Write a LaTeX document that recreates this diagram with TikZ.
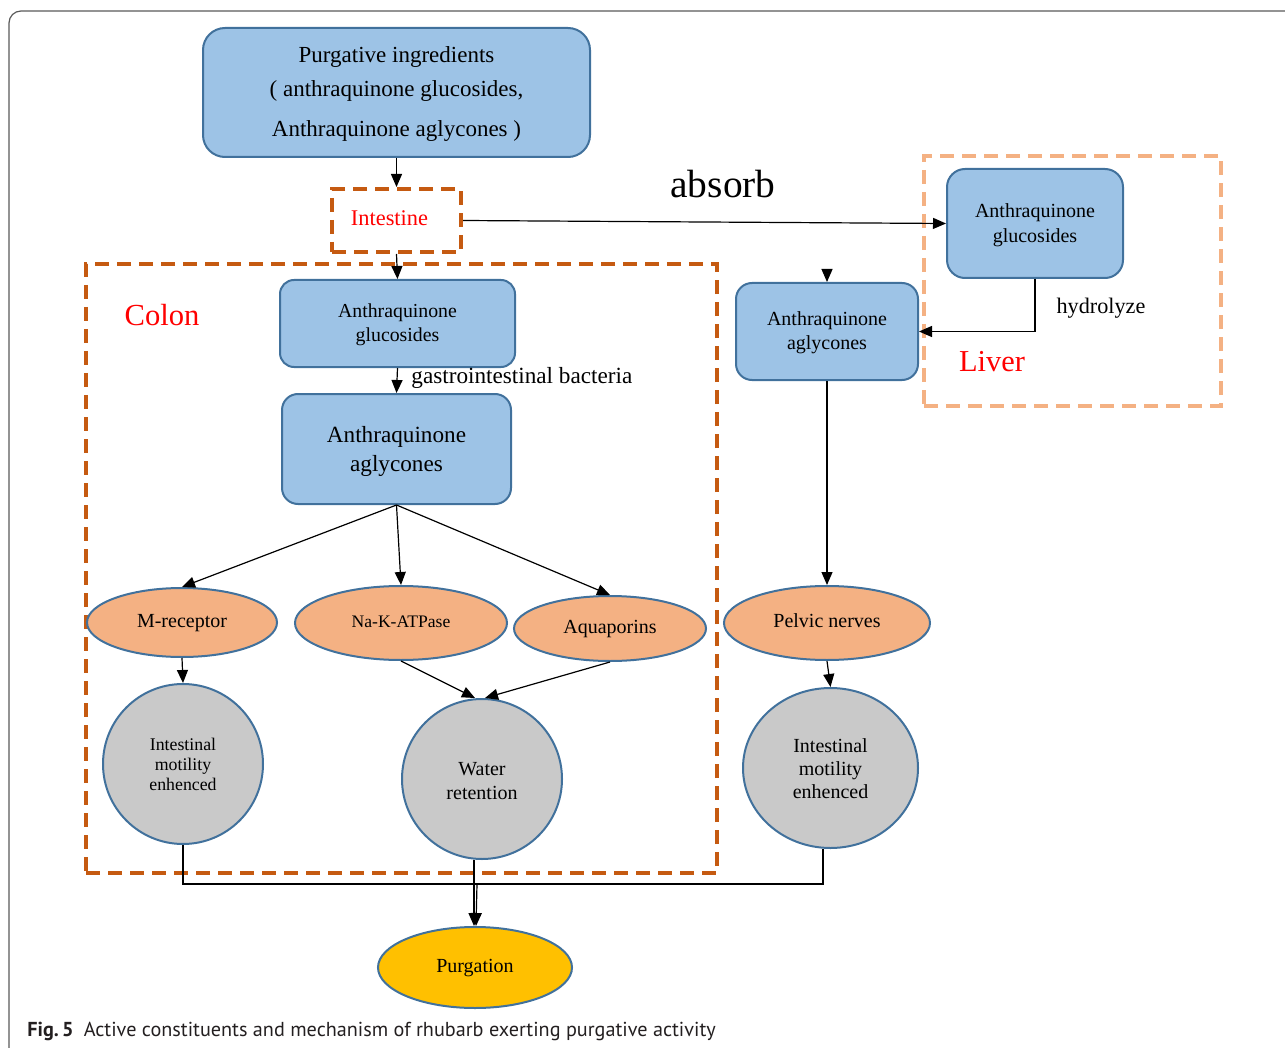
\documentclass[tikz,border=0pt]{standalone}
\usepackage{fontspec}
\setmainfont{Liberation Serif}
\newfontfamily\capfont{PT Sans}
\usetikzlibrary{arrows.meta,shapes.geometric}
\newcommand\myfs[2]{\fontsize{#1}{#2}\selectfont}
\definecolor{boxfill}{HTML}{9DC3E6}
\definecolor{boxline}{HTML}{41719C}
\definecolor{orfill}{HTML}{F4B183}
\definecolor{grfill}{HTML}{C9C9C9}
\definecolor{purfill}{HTML}{FFC000}
\definecolor{colonline}{HTML}{C55A11}
\definecolor{liverline}{HTML}{F4B183}
\definecolor{capcol}{HTML}{231F20}
\tikzset{
  bluebox/.style={draw=boxline, fill=boxfill, line width=1pt, rounded corners=8pt, align=center, inner sep=0pt},
  orell/.style={ellipse, draw=boxline, fill=orfill, line width=1pt, inner sep=0pt, align=center},
  grell/.style={ellipse, draw=boxline, fill=grfill, line width=1pt, inner sep=0pt, align=center},
  purell/.style={ellipse, draw=boxline, fill=purfill, line width=1pt, inner sep=0pt, align=center},
  dashbox/.style={draw=colonline, line width=2pt, dash pattern=on 7pt off 4pt, inner sep=0pt},
  liverbox/.style={draw=liverline, line width=2pt, dash pattern=on 7pt off 4pt, inner sep=0pt},
  conn/.style={line width=0.6pt, draw=black},
  arr/.style={conn, -{Triangle[length=6.5pt,width=5.5pt]}},
  redlbl/.style={text=red, inner sep=0pt},
  lbl/.style={inner sep=0pt}
}
\begin{document}
\begin{tikzpicture}[x=0.5pt,y=-0.5pt]
\useasboundingbox (0,0) rectangle (1285,1048);
% outer frame
\draw[line width=0.6pt, draw=black!65, rounded corners=6pt] (9,11) rectangle (1310,1070);

% dashed region boxes
\node[dashbox, minimum width=315.5pt, minimum height=304.5pt] (colon) at (401.5,568.5) {};
\node[liverbox, minimum width=148.5pt, minimum height=125pt] (liver) at (1072.5,281) {};

% top box
\node[bluebox, rounded corners=11pt, minimum width=193.5pt, minimum height=64.5pt, font=\myfs{11.5pt}{17pt}] (top) at (396.5,92.5)
  {\strut Purgative ingredients\\( anthraquinone glucosides,\\[3pt]Anthraquinone aglycones )\strut};

% intestine
\node[dashbox, minimum width=64.5pt, minimum height=31.5pt, text=red, font=\myfs{11.2pt}{13pt}] (int) at (396.5,220.5) {\strut Intestine\kern7pt};

% colon boxes
\node[bluebox, rounded corners=7pt, minimum width=117.5pt, minimum height=43.5pt, font=\myfs{9.9pt}{12pt}] (cglu) at (397.5,323.5) {\strut Anthraquinone\\glucosides};
\node[bluebox, rounded corners=8pt, minimum width=114.5pt, minimum height=55pt, font=\myfs{11.6pt}{14.5pt}] (cagl) at (396.5,449) {\strut Anthraquinone\\aglycones};

% liver boxes
\node[bluebox, rounded corners=9pt, minimum width=88pt, minimum height=54.5pt, font=\myfs{10pt}{12.5pt}] (lglu) at (1035,223.5) {\strut Anthraquinone\\glucosides};
\node[bluebox, rounded corners=8pt, minimum width=91pt, minimum height=48.5pt, font=\myfs{10pt}{12pt}] (ragl) at (827,331.5) {\strut Anthraquinone\\aglycones};

% ellipses
\node[orell, minimum width=95pt, minimum height=34.5pt, font=\myfs{10pt}{12pt}] (mrec) at (182,622.5) {\strut M-receptor};
\node[orell, minimum width=106pt, minimum height=37pt, font=\myfs{8.8pt}{11pt}] (nak) at (401,623) {\strut Na-K-ATPase};
\node[orell, minimum width=96pt, minimum height=32.5pt, font=\myfs{10pt}{12pt}] (aqua) at (610,628.5) {\strut Aquaporins};
\node[orell, minimum width=103pt, minimum height=37pt, font=\myfs{10pt}{12pt}] (pelv) at (827,623) {\strut Pelvic nerves};

\node[grell, minimum width=80pt, minimum height=80pt, font=\myfs{8.9pt}{10pt}] (lmot) at (183,764) {\strut Intestinal\\motility\\enhenced};
\node[grell, minimum width=80pt, minimum height=80pt, font=\myfs{10pt}{12pt}] (water) at (482,779) {\strut Water\\retention};
\node[grell, minimum width=87.5pt, minimum height=80pt, font=\myfs{10pt}{11.5pt}] (rmot) at (830.5,768) {\strut Intestinal\\motility\\enhenced};

\node[purell, minimum width=97pt, minimum height=40.5pt, font=\myfs{10pt}{12pt}] (purg) at (475,967.5) {\strut Purgation};

% labels
\node[lbl, font=\myfs{19.7pt}{22pt}] (absorb) at (723,184) {absorb};
\node[redlbl, font=\myfs{15.3pt}{18pt}] (colonlbl) at (162,315) {Colon};
\node[redlbl, font=\myfs{15.2pt}{18pt}] (liverlbl) at (992,362) {Liver};
\node[lbl, font=\myfs{11.1pt}{13pt}] (hydro) at (1101,308) {hydrolyze};
\node[lbl, anchor=west, font=\myfs{11.6pt}{13pt}] (gib) at (411,378) {gastrointestinal bacteria};

% connectors
\draw[arr] (top.south) -- (int.north);
\draw[arr] (int.south) -- (cglu.north);
\draw[arr] (cglu.south) -- (cagl.north);
\draw[arr] (int.east) -- (lglu.west);
\draw[arr] (lglu.south) |- (ragl.east);
\coordinate (stub) at (827,270);
\draw[arr] (stub) -- (ragl.north);
\draw[arr] (ragl.south) -- (pelv.north);

\draw[arr] (cagl.south) -- (mrec.north);
\draw[arr] (cagl.south) -- (nak.north);
\draw[arr] (cagl.south) -- (aqua.north);

\draw[arr] (mrec.south) -- (lmot.north);
\draw[arr] (nak.south) -- ([xshift=-3.5pt]water.north);
\draw[arr] (aqua.south) -- ([xshift=1.5pt]water.north);
\draw[arr] (pelv.south) -- (rmot.north);

\coordinate (join) at (477,884);
\draw[conn] (lmot.south) |- (join);
\draw[conn] ([xshift=-3.75pt]rmot.south) |- (join);
\draw[arr] ([xshift=-4pt]water.south) -- ([xshift=-0.5pt]purg.north);
\draw[arr] (join) -- ([xshift=0.5pt]purg.north);

% caption
\node[lbl, anchor=west, text=capcol, font=\capfont\myfs{10.1pt}{12pt}] (cap) at (27,1031) {\textbf{Fig.\,5}\hspace{0.5em}Active constituents and mechanism of rhubarb exerting purgative activity};
\end{tikzpicture}
\end{document}
